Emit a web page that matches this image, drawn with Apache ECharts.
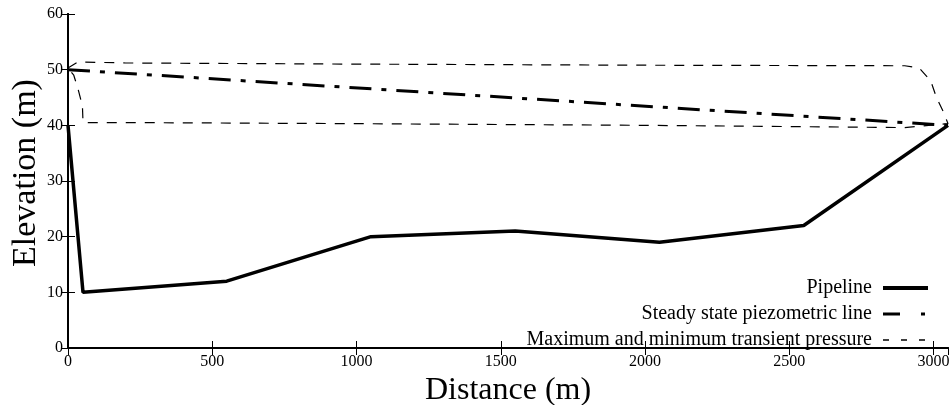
<!DOCTYPE html>
<html><head><meta charset="utf-8">
<script src="https://cdn.jsdelivr.net/npm/echarts@6/dist/echarts.min.js"></script>
<style>html,body{margin:0;padding:0;background:#fff}#c{width:949px;height:405px}</style>
</head><body><div id="c"></div>
<script>
const pipelineX = [0, 52, 550, 1050, 1550, 2050, 2550, 3050];
const pipelineY = [40, 10, 12, 20, 21, 19, 22, 40];
const steadyX = [0, 3050];
const steadyY = [50, 40];
const maxX = [0, 35, 200, 1000, 2000, 2900, 2950, 2990, 3010, 3035, 3050];
const maxY = [50.3, 51.4, 51.2, 51.0, 50.8, 50.7, 50.3, 48, 45, 42.3, 40.3];
const minX = [0, 20, 35, 50, 52, 200, 1000, 2000, 2900, 3050];
const minY = [50.3, 49, 46.5, 43.5, 40.5, 40.5, 40.3, 40.0, 39.6, 40.3];
const xTicks = [0, 500, 1000, 1500, 2000, 2500, 3000];
const yTicks = [0, 10, 20, 30, 40, 50, 60];
const names = ['Pipeline', 'Steady state piezometric line', 'Maximum and minimum transient pressure'];

const zip = (xs, ys) => xs.map((x, i) => [x, ys[i]]);
const transient = zip(maxX, maxY).concat(zip(minX, minY).reverse());

const font = 'Liberation Serif';
const chart = echarts.init(document.getElementById('c'), null, {renderer: 'canvas'});
const axisLineStyle = {lineStyle: {color: '#000', width: 2}};
const tick = {inside: true, length: 7, lineStyle: {color: '#000', width: 1}};
const legendLines = [
  {color: '#000', width: 4, type: 'solid'},
  {color: '#000', width: 3, type: [17, 21, 4, 20]},
  {color: '#000', width: 1.6, type: [6, 12]}
];
chart.setOption({
  animation: false,
  backgroundColor: '#fff',
  grid: {left: 68, right: 1, top: 14, bottom: 57, containLabel: false, outerBoundsMode: 'none'},
  xAxis: [{
    type: 'value', min: 0, max: 3050, interval: 500, position: 'bottom',
    name: 'Distance (m)', nameLocation: 'middle', nameGap: 27, nameMoveOverlap: false,
    nameTextStyle: {fontFamily: font, fontSize: 32, color: '#000'},
    axisLine: axisLineStyle, axisTick: tick,
    axisLabel: {fontFamily: font, fontSize: 16, color: '#000', margin: 6, showMaxLabel: false,
      formatter: v => xTicks.includes(v) ? String(v) : ''},
    splitLine: {show: false}
  }, {
    type: 'value', min: 0, max: 3050, interval: 500, position: 'top',
    axisLine: axisLineStyle, axisTick: tick,
    axisLabel: {show: false}, splitLine: {show: false}
  }],
  yAxis: [{
    type: 'value', min: 0, max: 60, interval: 10, position: 'left',
    name: 'Elevation (m)', nameLocation: 'middle', nameGap: 25, nameMoveOverlap: false,
    nameTextStyle: {fontFamily: font, fontSize: 34, color: '#000', padding: [0, 0, 0, 16]},
    axisLine: axisLineStyle, axisTick: tick,
    axisLabel: {fontFamily: font, fontSize: 16, color: '#000', margin: 5,
      formatter: v => yTicks.includes(v) ? String(v) : ''},
    splitLine: {show: false}
  }, {
    type: 'value', min: 0, max: 60, interval: 10, position: 'right',
    axisLine: axisLineStyle, axisTick: tick,
    axisLabel: {show: false}, splitLine: {show: false}
  }],
  legend: {
    orient: 'vertical', right: 14, bottom: 50, align: 'right',
    itemWidth: 45, itemHeight: 14, itemGap: 6,
    itemStyle: {opacity: 0},
    textStyle: {fontFamily: font, fontSize: 20, color: '#000', padding: [0, 6, 0, 0]},
    data: names.map((n, i) => ({name: n, lineStyle: legendLines[i]}))
  },
  series: [{
    name: names[0], type: 'line', data: zip(pipelineX, pipelineY),
    symbol: 'none', showSymbol: false, clip: false,
    lineStyle: {color: '#000', width: 3.5, type: 'solid'}, itemStyle: {color: '#000'}
  }, {
    name: names[1], type: 'line', data: zip(steadyX, steadyY),
    symbol: 'none', showSymbol: false,
    lineStyle: {color: '#000', width: 3, type: [22, 10, 5, 10]}, itemStyle: {color: '#000'}
  }, {
    name: names[2], type: 'line', data: transient,
    symbol: 'none', showSymbol: false,
    lineStyle: {color: '#000', width: 1.2, type: [10, 9]}, itemStyle: {color: '#000'}
  }]
});
</script></body></html>
